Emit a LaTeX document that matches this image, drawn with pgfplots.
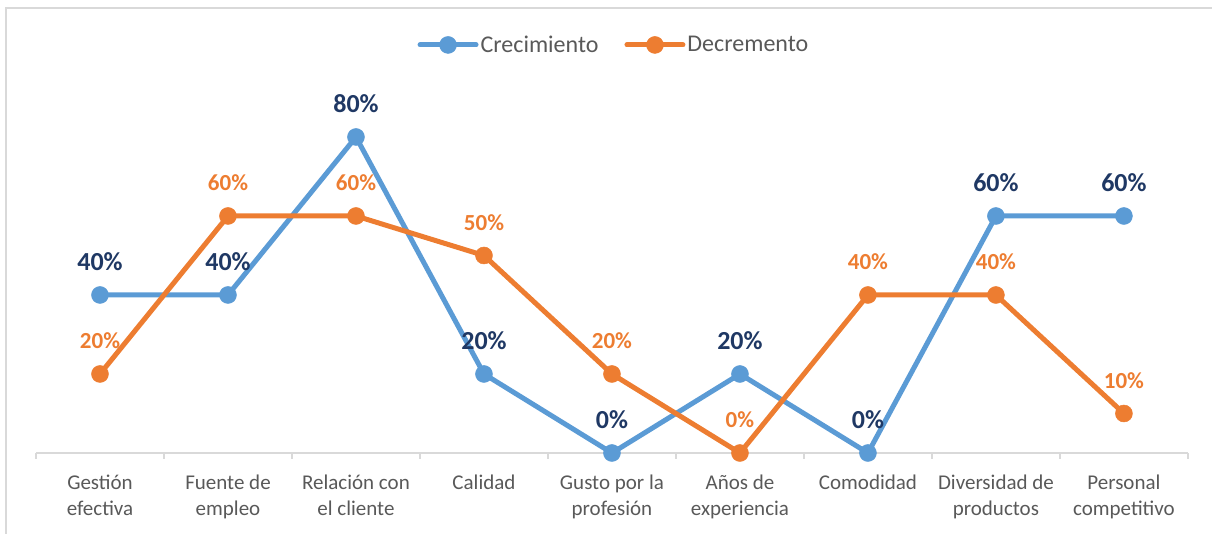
\documentclass[border=0pt]{standalone}
\usepackage{pgfplots}
\pgfplotsset{compat=1.18}
\usepackage{fontspec}
\setmainfont{Carlito}
\definecolor{cblue}{HTML}{5B9BD5}
\definecolor{corange}{HTML}{ED7D31}
\definecolor{cnavy}{HTML}{1F3864}
\definecolor{ctext}{HTML}{595959}
\definecolor{cgrid}{HTML}{D9D9D9}
\begin{document}
\begin{tikzpicture}
\useasboundingbox (0,0) rectangle (1212pt,534pt);
\draw[cgrid, line width=1.5pt] (6pt,-5pt) -- (6pt,526pt) -- (1220pt,526pt);
\begin{axis}[
  at={(36pt,81pt)}, anchor=south west,
  scale only axis, width=1152pt, height=395pt,
  xmin=-0.5, xmax=8.5, ymin=0, ymax=100,
  clip=false,
  axis x line*=bottom, axis y line=none,
  x axis line style={-, draw=cgrid, line width=1.5pt},
  xtick={0,...,8},
  xticklabels={Gestión\\efectiva, Fuente de\\empleo, Relación con\\el cliente, Calidad, Gusto por la\\profesión, Años de\\experiencia, Comodidad, Diversidad de\\productos, Personal\\competitivo},
  major tick length=0pt,
  minor xtick={-0.5,0.5,...,8.5},
  minor tick length=6pt,
  xtick align=outside,
  minor tick style={draw=cgrid, line width=1.5pt},
  xticklabel style={align=center, text=ctext, font=\fontsize{21}{26}\selectfont, yshift=-18pt},
  legend style={at={(0.5017,1.033)}, anchor=center, draw=none, fill=none,
    legend columns=-1, font=\fontsize{24}{26}\selectfont, text=ctext,
    /tikz/every even column/.append style={column sep=24pt},
    nodes={inner sep=2pt}},
  legend image code/.code={\draw[mark repeat=2, mark phase=2, #1] plot coordinates {(0pt,0pt) (28pt,0pt) (56pt,0pt)};},
  point meta=y,
  nodes near coords={\pgfmathprintnumber[assume math mode=true]{\pgfplotspointmeta}\%},
]
\addplot[cblue, line width=5pt, line join=round, line cap=round, mark=*, mark size=8.5pt, mark options={fill=cblue, draw=cblue, line width=0.5pt},
  every node near coord/.append style={anchor=center, yshift=33pt, text=cnavy, font=\bfseries\fontsize{26}{28}\selectfont}]
  coordinates {(0,40) (1,40) (2,80) (3,20) (4,0) (5,20) (6,0) (7,60) (8,60)};
\addlegendentry{Crecimiento}
\addplot[corange, line width=5pt, line join=round, line cap=round, mark=*, mark size=8.5pt, mark options={fill=corange, draw=corange, line width=0.5pt},
  every node near coord/.append style={anchor=center, yshift=33pt, text=corange, font=\bfseries\fontsize{23}{25}\selectfont}]
  coordinates {(0,20) (1,60) (2,60) (3,50) (4,20) (5,0) (6,40) (7,40) (8,10)};
\addlegendentry{Decremento}
\end{axis}
\end{tikzpicture}
\end{document}
